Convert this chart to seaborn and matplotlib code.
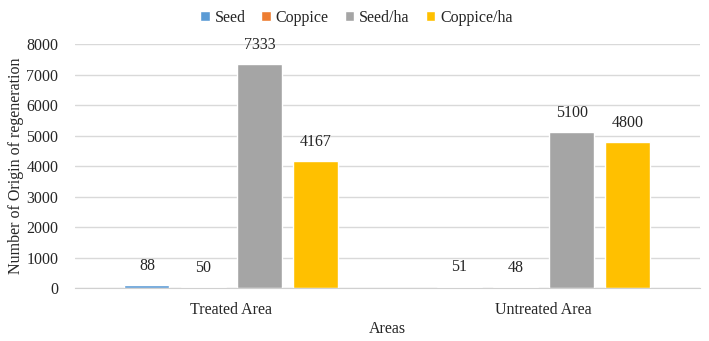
import pandas as pd
import matplotlib.pyplot as plt
import seaborn as sns

areas = ["Treated Area", "Untreated Area"]
series = ["Seed", "Coppice", "Seed/ha", "Coppice/ha"]
seed = [88, 51]
coppice = [50, 48]
seed_ha = [7333, 5100]
coppice_ha = [4167, 4800]
colors = ["#5B9BD5", "#ED7D31", "#A5A5A5", "#FFC000"]

if __name__ == "__main__":
    rows = []
    for name, vals in zip(series, [seed, coppice, seed_ha, coppice_ha]):
        for a, v in zip(areas, vals):
            rows.append({"Areas": a, "Type": name, "Value": v})
    df = pd.DataFrame(rows)

    sns.set_style("white")
    plt.rcParams['font.family'] = ['Liberation Serif', 'DejaVu Serif']

    fig, ax = plt.subplots(figsize=(7.09, 3.41), dpi=100)
    fig.subplots_adjust(left=0.106, right=0.987, bottom=0.155, top=0.871)

    sns.barplot(data=df, x="Areas", y="Value", hue="Type", hue_order=series,
                palette=colors, width=0.72, gap=0.2, saturation=1, ax=ax)

    for c in ax.containers:
        ax.bar_label(c, padding=8, fontsize=11.5)

    ax.set_ylim(0, 8000)
    ax.set_yticks(range(0, 8001, 1000))
    ax.yaxis.grid(True, color="#D9D9D9", linewidth=1)
    ax.set_axisbelow(True)
    for s in ["top", "right", "left"]:
        ax.spines[s].set_visible(False)
    ax.spines["bottom"].set_color("#D0D0D0")
    ax.tick_params(axis="y", labelsize=11.5, length=0, pad=12)
    ax.tick_params(axis="x", labelsize=11.5, length=0, pad=10)

    ax.set_xlabel("Areas", fontsize=11.5, labelpad=2)
    ax.set_ylabel("Number of Origin of regeneration", fontsize=11.5, labelpad=2)

    ax.legend(loc="upper center", bbox_to_anchor=(0.45, 1.2), ncol=4,
              frameon=False, fontsize=11.5, handlelength=0.6, handleheight=0.6,
              handletextpad=0.3, columnspacing=1.0)

    fig.savefig("out.png", dpi=100)
